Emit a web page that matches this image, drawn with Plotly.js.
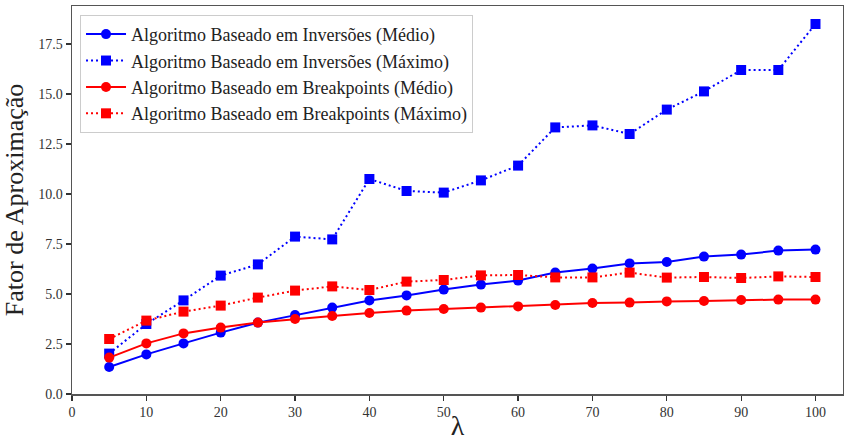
<!DOCTYPE html>
<html>
<head>
<meta charset="utf-8">
<script src="https://cdn.plot.ly/plotly-3.0.1.min.js"></script>
<style>html,body{margin:0;padding:0;background:#fff;}#chart{width:844px;height:441px;}</style>
</head>
<body>
<div id="chart"></div>
<script>
const lambdas = [5,10,15,20,25,30,35,40,45,50,55,60,65,70,75,80,85,90,95,100];
const invMedio = [1.35,1.98,2.53,3.07,3.57,3.95,4.32,4.68,4.93,5.22,5.47,5.67,6.07,6.27,6.53,6.60,6.87,6.97,7.17,7.22];
const invMaximo = [2.02,3.50,4.68,5.92,6.48,7.87,7.73,10.75,10.15,10.07,10.68,11.42,13.33,13.43,13.00,14.22,15.13,16.20,16.20,18.50];
const bpMedio = [1.82,2.53,3.03,3.32,3.57,3.75,3.90,4.05,4.17,4.25,4.32,4.38,4.45,4.55,4.57,4.63,4.65,4.70,4.72,4.72];
const bpMaximo = [2.75,3.67,4.12,4.42,4.82,5.17,5.38,5.20,5.62,5.70,5.93,5.95,5.83,5.83,6.07,5.82,5.85,5.80,5.88,5.85];
const names = [
  "Algoritmo Baseado em Inversões (Médio)",
  "Algoritmo Baseado em Inversões (Máximo)",
  "Algoritmo Baseado em Breakpoints (Médio)",
  "Algoritmo Baseado em Breakpoints (Máximo)"
];
const yTicks = [0,2.5,5,7.5,10,12.5,15,17.5];
const yTickText = ["0.0","2.5","5.0","7.5","10.0","12.5","15.0","17.5"];
const xTicks = [0,10,20,30,40,50,60,70,80,90,100];

const FONT = "Liberation Serif";
function tr(y, name, color, dash, symbol) {
  return {
    x: lambdas, y: y, name: name, type: 'scatter', mode: 'lines+markers',
    line: {color: color, width: 2, dash: dash},
    marker: {color: color, size: 10, symbol: symbol}
  };
}
const data = [
  tr(invMedio, names[0], '#0000ff', 'solid', 'circle'),
  tr(invMaximo, names[1], '#0000ff', '2px,3px', 'square'),
  tr(bpMedio, names[2], '#ff0000', 'solid', 'circle'),
  tr(bpMaximo, names[3], '#ff0000', '2px,3px', 'square')
];
const layout = {
  width: 844, height: 441,
  margin: {l: 72, r: 1, t: 6, b: 47},
  paper_bgcolor: '#fff', plot_bgcolor: '#fff',
  font: {family: FONT, color: '#262626'},
  showlegend: true,
  legend: {
    x: 0.0104, y: 0.977, xanchor: 'left', yanchor: 'top',
    bgcolor: 'rgba(255,255,255,0.9)', bordercolor: '#cccccc', borderwidth: 1,
    font: {family: FONT, size: 18, color: '#222'},
    itemwidth: 40, tracegroupgap: 0
  },
  xaxis: {
    range: [0, 103.7], tickvals: xTicks, ticks: 'outside', ticklen: 5, tickwidth: 1.2,
    tickcolor: '#333', showline: true, linecolor: '#555', linewidth: 1.5, mirror: true,
    showgrid: false, zeroline: false, tickfont: {family: FONT, size: 14, color: '#333'},
    title: {text: 'λ', font: {family: FONT, size: 28, color: '#222'}, standoff: 10}
  },
  yaxis: {
    range: [0, 19.4], tickvals: yTicks, ticktext: yTickText, ticks: 'outside', ticklen: 5, tickwidth: 1.2,
    tickcolor: '#333', showline: true, linecolor: '#555', linewidth: 1.5, mirror: true,
    showgrid: false, zeroline: false, tickfont: {family: FONT, size: 14, color: '#333'},
    title: {text: 'Fator de Aproximação', font: {family: FONT, size: 26, color: '#222'}, standoff: 10}
  }
};
Plotly.newPlot('chart', data, layout, {displayModeBar: false, staticPlot: true});
</script>
</body>
</html>
